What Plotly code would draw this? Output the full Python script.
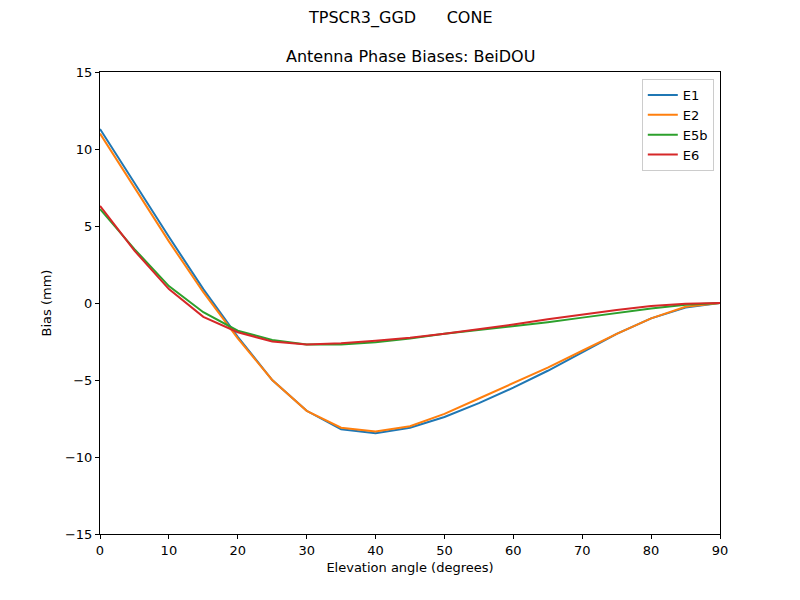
import plotly.graph_objects as go

# elevation angles and bias values (mm)
elev = [0, 5, 10, 15, 20, 25, 30, 35, 40, 45, 50, 55, 60, 65, 70, 75, 80, 85, 90]
e1 = [11.3, 7.8, 4.3, 0.9, -2.2, -5.0, -7.0, -8.2, -8.45, -8.1, -7.4, -6.5, -5.5, -4.4, -3.2, -2.0, -1.0, -0.3, 0.0]
e2 = [11.0, 7.5, 4.0, 0.7, -2.3, -5.0, -7.0, -8.1, -8.35, -8.0, -7.2, -6.2, -5.2, -4.2, -3.1, -2.0, -1.0, -0.25, 0.0]
e5b = [6.1, 3.5, 1.1, -0.6, -1.8, -2.4, -2.7, -2.7, -2.55, -2.3, -2.0, -1.75, -1.5, -1.25, -0.95, -0.65, -0.35, -0.12, 0.0]
e6 = [6.3, 3.4, 0.9, -0.9, -1.9, -2.5, -2.7, -2.62, -2.45, -2.25, -2.0, -1.7, -1.4, -1.05, -0.75, -0.45, -0.2, -0.05, 0.0]

series = [("E1", e1, "#1f77b4"), ("E2", e2, "#ff7f0e"),
          ("E5b", e5b, "#2ca02c"), ("E6", e6, "#d62728")]

fig = go.Figure()
for name, vals, col in series:
    fig.add_trace(go.Scatter(x=elev, y=vals, mode="lines", name=name,
                             line=dict(color=col, width=2)))

axis_style = dict(showline=True, linecolor="black", linewidth=1, mirror=True,
                  ticks="outside", ticklen=4, tickcolor="black",
                  showgrid=False, zeroline=False,
                  tickfont=dict(size=13, color="black"))

fig.update_xaxes(range=[0, 90], dtick=10, title=dict(text="Elevation angle (degrees)",
                 font=dict(size=13, color="black"), standoff=6), **axis_style)
fig.update_yaxes(range=[-15, 15], dtick=5, title=dict(text="Bias (mm)",
                 font=dict(size=13, color="black"), standoff=10), **axis_style)

# page body adds 8px, so margins are shifted by that amount
fig.update_layout(
    width=800, height=600,
    margin=dict(l=92, r=88, t=64, b=74),
    plot_bgcolor="white", paper_bgcolor="white",
    font=dict(family="DejaVu Sans", color="black"),
    legend=dict(x=0.99, y=0.985, xanchor="right", yanchor="top",
                bordercolor="#cccccc", borderwidth=1, bgcolor="white",
                font=dict(size=13)),
    annotations=[
        # figure-level title is centred on the whole figure, not the axes
        dict(text="TPSCR3_GGD      CONE", x=0.5, y=1, xref="paper", yref="paper",
             xshift=-10, yanchor="bottom", yshift=42, showarrow=False,
             font=dict(size=16)),
        dict(text="Antenna Phase Biases: BeiDOU", x=0.5, y=1.0, xref="paper", yref="paper",
             yanchor="bottom", yshift=4, showarrow=False, font=dict(size=16)),
    ],
)

fig.write_html("out.html")
